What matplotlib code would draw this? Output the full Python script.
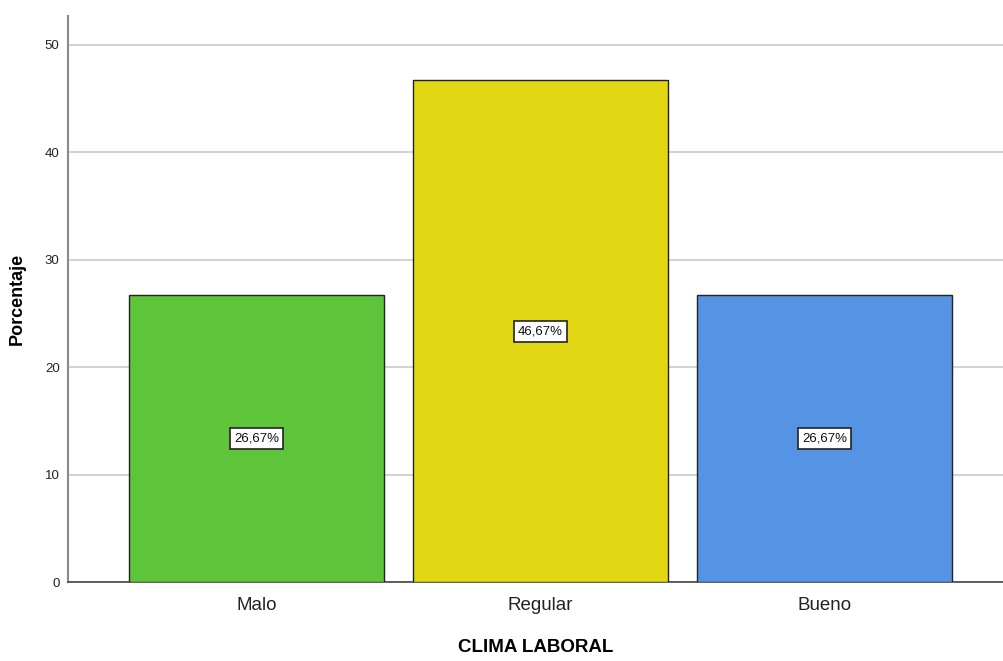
import matplotlib
matplotlib.use("Agg")
import matplotlib.pyplot as plt

categories = ["Malo", "Regular", "Bueno"]
percentages = [26.67, 46.67, 26.67]
bar_colors = ["#5ec43a", "#e1d712", "#5594e4"]
y_ticks = [0, 10, 20, 30, 40, 50]

plt.rcParams["font.family"] = ["Liberation Sans", "DejaVu Sans"]

fig = plt.figure(figsize=(10.04, 6.61), dpi=100)
ax = fig.add_axes([0.0677, 0.1195, 0.9323, 0.857])

x = list(range(len(categories)))
ax.bar(x, percentages, width=0.898, color=bar_colors, edgecolor="#222222",
       linewidth=1.0, zorder=3)

for xi, v in zip(x, percentages):
    ax.text(xi, v / 2, f"{v:.2f}%".replace(".", ","), ha="center", va="center",
            fontsize=9.5, color="#111111", zorder=4,
            bbox=dict(boxstyle="square,pad=0.33", facecolor="white",
                      edgecolor="#222222", linewidth=1.2))

ax.set_xlim(-0.664, 2.632)
ax.set_ylim(0, 52.7)
ax.set_yticks(y_ticks)
ax.set_xticks(x)
ax.set_xticklabels(categories, fontsize=13.5, color="#222222")
ax.tick_params(axis="y", length=0, labelsize=9.5, pad=6, colors="#222222")
ax.tick_params(axis="x", length=0, pad=11)

ax.grid(axis="y", color="#d4d4d4", linewidth=1.5, zorder=0)
ax.set_axisbelow(True)

for side in ("top", "right"):
    ax.spines[side].set_visible(False)
ax.spines["left"].set_color("#8a8a8a")
ax.spines["left"].set_linewidth(1.5)
ax.spines["bottom"].set_color("#444444")
ax.spines["bottom"].set_linewidth(1.2)

ax.set_xlabel("CLIMA LABORAL", fontsize=13.5, fontweight="bold", labelpad=18)
ax.set_ylabel("Porcentaje", fontsize=13, fontweight="bold", labelpad=14)

fig.savefig("out.png", dpi=100)
